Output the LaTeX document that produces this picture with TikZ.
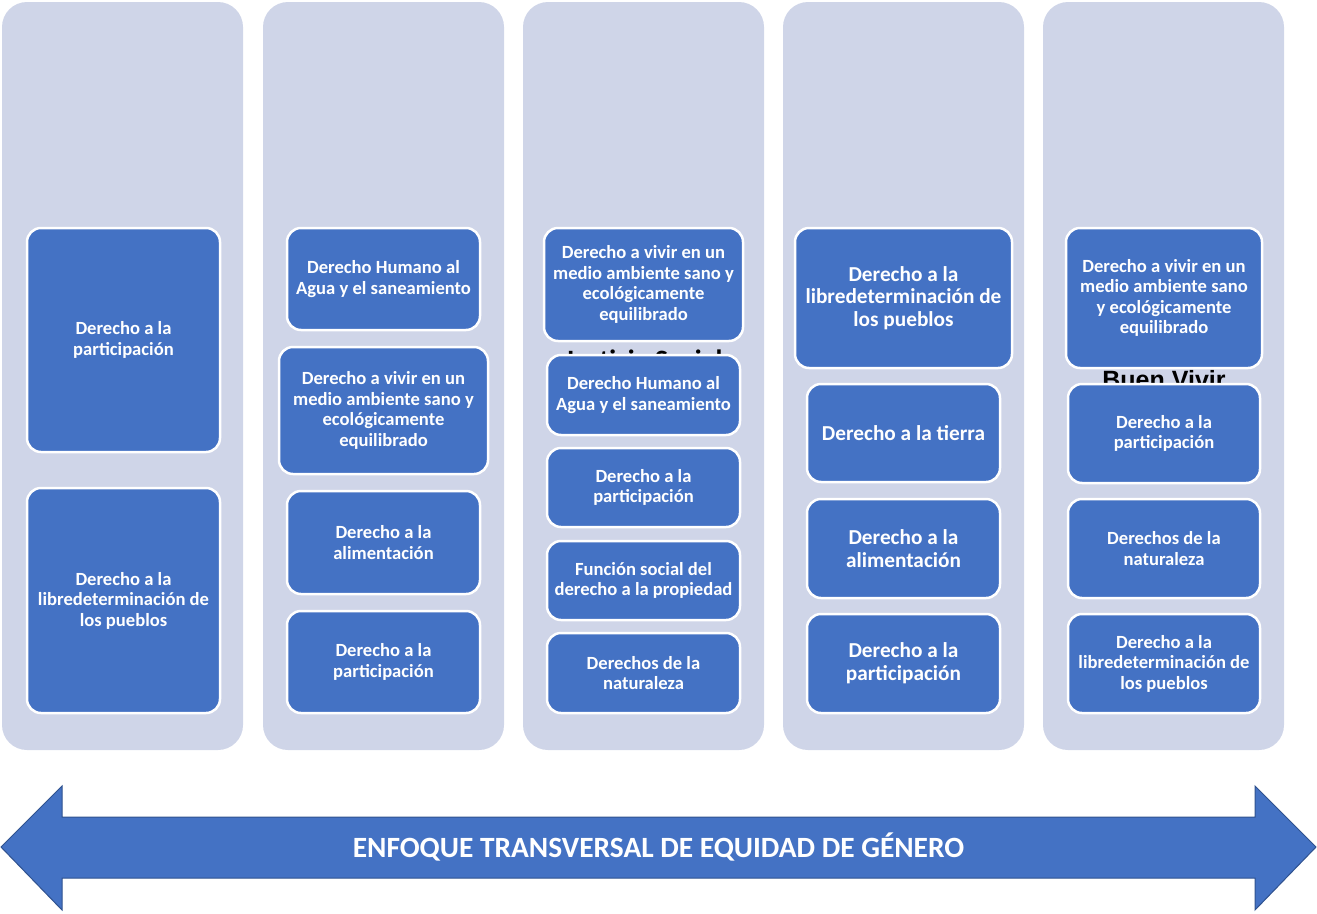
\documentclass[tikz,border=0pt]{standalone}
\usepackage{fontspec}
\setmainfont{Carlito}
\newfontfamily\hidfont{Liberation Sans}
\definecolor{panelc}{HTML}{CFD5E8}
\definecolor{boxc}{HTML}{4472C4}
\definecolor{arrowedge}{HTML}{2F528F}
\begin{document}
\begin{tikzpicture}[x=1pt,y=-1pt,
  panel/.style={fill=panelc, draw=none, rounded corners=25pt, inner sep=0pt},
  rbox/.style={fill=boxc, draw=white, line width=2.5pt, rounded corners=14pt,
    text=white, align=center, inner sep=0pt,
    font=\bfseries\fontsize{18.6}{20.5}\selectfont},
  bigbox/.style={rbox, font=\bfseries\fontsize{21.3}{22.8}\selectfont},
  hidden/.style={text=black, inner sep=0pt}
]
\useasboundingbox (0,0) rectangle (1317,913);
% panels
\foreach \n/\cx in {p1/122.5,p2/383.5,p3/643.5,p4/903.5,p5/1163.5}
  \node[panel, minimum width=241pt, minimum height=748pt] (\n) at (\cx,376) {};
% partially hidden headings
\node[hidden, font=\bfseries\fontsize{28}{30}\selectfont, anchor=base] (h3) at (643.5,369) {Justicia Social};
\node[hidden, font=\hidfont\bfseries\fontsize{25}{27}\selectfont, anchor=base] (h5) at (1164,388) {Buen Vivir};
% column 1
\node[rbox, minimum width=193pt, minimum height=224pt] (c1a) at (123.5,340) {Derecho a la\\participación};
\node[rbox, minimum width=193pt, minimum height=225pt] (c1b) at (123.5,600.5) {Derecho a la\\libredeterminación de\\los pueblos};
% column 2
\node[rbox, minimum width=193pt, minimum height=102pt] (c2a) at (383.5,279) {Derecho Humano al\\Agua y el saneamiento};
\node[rbox, minimum width=209pt, minimum height=127pt] (c2b) at (383.5,410.5) {Derecho a vivir en un\\medio ambiente sano y\\ecológicamente\\equilibrado};
\node[rbox, minimum width=193pt, minimum height=103pt] (c2c) at (383.5,542.5) {Derecho a la\\alimentación};
\node[rbox, minimum width=193pt, minimum height=102pt] (c2d) at (383.5,662) {Derecho a la\\participación};
% column 3
\node[rbox, minimum width=199pt, minimum height=113pt] (c3a) at (643.5,284.5) {Derecho a vivir en un\\medio ambiente sano y\\ecológicamente\\equilibrado};
\node[rbox, minimum width=193pt, minimum height=80pt] (c3b) at (643.5,395) {Derecho Humano al\\Agua y el saneamiento};
\node[rbox, minimum width=193pt, minimum height=79pt] (c3c) at (643.5,487.5) {Derecho a la\\participación};
\node[rbox, minimum width=193pt, minimum height=79pt] (c3d) at (643.5,580.5) {Función social del\\derecho a la propiedad};
\node[rbox, minimum width=193pt, minimum height=80pt] (c3e) at (643.5,673) {Derechos de la\\naturaleza};
% column 4
\node[bigbox, minimum width=217pt, minimum height=140pt] (c4a) at (903.5,298) {Derecho a la\\libredeterminación de\\los pueblos};
\node[bigbox, minimum width=193pt, minimum height=98pt] (c4b) at (903.5,433) {Derecho a la tierra};
\node[bigbox, minimum width=193pt, minimum height=99pt] (c4c) at (903.5,548.5) {Derecho a la\\alimentación};
\node[bigbox, minimum width=193pt, minimum height=99pt] (c4d) at (903.5,663.5) {Derecho a la\\participación};
% column 5
\node[rbox, minimum width=196pt, minimum height=140pt] (c5a) at (1164,298) {Derecho a vivir en un\\medio ambiente sano\\y ecológicamente\\equilibrado};
\node[rbox, minimum width=192pt, minimum height=99pt] (c5b) at (1164,433.5) {Derecho a la\\participación};
\node[rbox, minimum width=192pt, minimum height=99pt] (c5c) at (1164,548.5) {Derechos de la\\naturaleza};
\node[rbox, minimum width=192pt, minimum height=99pt] (c5d) at (1164,663.5) {Derecho a la\\libredeterminación de\\los pueblos};
% double arrow
\draw[fill=boxc, draw=arrowedge, line width=1pt, line join=miter]
  (1,847) -- (62,786) -- (62,817) -- (1255,817) -- (1255,786) -- (1316,847)
  -- (1255,910) -- (1255,878) -- (62,878) -- (62,910) -- cycle;
\node[text=white, font=\bfseries\fontsize{29.4}{31}\selectfont, inner sep=0pt] (arr) at (658.5,847) {ENFOQUE TRANSVERSAL DE EQUIDAD DE GÉNERO};
\end{tikzpicture}
\end{document}
